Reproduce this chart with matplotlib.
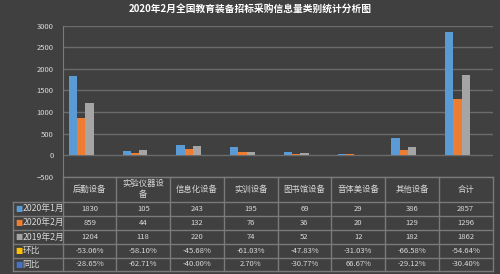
import matplotlib.pyplot as plt
import numpy as np

plt.rcParams['font.family'] = ['Noto Sans CJK SC', 'DejaVu Sans']

# data
categories = ['后勤设备', '实验仪器设\n备', '信息化设备', '实训设备', '图书馆设备', '音体美设备', '其他设备', '合计']
jan_2020 = [1830, 105, 243, 195, 69, 29, 386, 2857]
feb_2020 = [859, 44, 132, 76, 36, 20, 129, 1296]
feb_2019 = [1204, 118, 220, 74, 52, 12, 182, 1862]
mom_pct = [-53.06, -58.10, -45.68, -61.03, -47.83, -31.03, -66.58, -54.64]   # 环比
yoy_pct = [-28.65, -62.71, -40.00, 2.70, -30.77, 66.67, -29.12, -30.40]     # 同比

series_names = ['2020年1月', '2020年2月', '2019年2月', '环比', '同比']
colors = ['#5b9bd5', '#ed7d31', '#a5a5a5', '#ffc000', '#4472c4']

bg = '#404040'
grid_c = '#6b6b6b'
line_c = '#7a7a7a'
txt_c = '#d9d9d9'

W, H = 500, 274
fig = plt.figure(figsize=(W / 100, H / 100), dpi=100, facecolor=bg)

fig.text(0.5, 1 - 9 / H, '2020年2月全国教育装备招标采购信息量类别统计分析图',
         ha='center', va='center', color='white', fontsize=7, fontweight='bold')

# main chart
x0, x1 = 62.7, 492.5
y_top, y_bot = 25.7, 176.7
ax = fig.add_axes([x0 / W, 1 - y_bot / H, (x1 - x0) / W, (y_bot - y_top) / H])
ax.set_facecolor(bg)

n = len(categories)
x = np.arange(n)
bw = 1 / 6.5
values = [jan_2020, feb_2020, feb_2019,
          [v / 100 for v in mom_pct], [v / 100 for v in yoy_pct]]
for i, (vals, c) in enumerate(zip(values, colors)):
    ax.bar(x + (i - 2) * bw, vals, width=bw, color=c, linewidth=0, zorder=2)

ax.set_xlim(-0.5, n - 0.5)
ax.set_ylim(-500, 3000)
ax.set_yticks(range(-500, 3001, 500))
ax.yaxis.grid(True, color=grid_c, lw=1)
ax.set_axisbelow(True)
ax.set_xticks([])
ax.tick_params(axis='y', length=0, pad=6.5, labelsize=5.5, labelcolor=txt_c)
for s in ['top', 'right', 'bottom']:
    ax.spines[s].set_visible(False)
ax.spines['left'].set_color(line_c)

# data table
tx0, ty0, ty1 = 12.7, 177, 271
label_w = (x0 - tx0) / ((x1 - x0) / n)
tax = fig.add_axes([tx0 / W, 1 - ty1 / H, (x1 - tx0) / W, (ty1 - ty0) / H])
tax.set_xlim(-0.5 - label_w, n - 0.5)
tax.set_ylim(ty1 - ty0, 0)
tax.axis('off')

row_edges = [0, 24.7, 38.7, 53, 67, 80.7, 94]
left = -0.5 - label_w
right = n - 0.5

# horizontal lines
tax.plot([-0.5, right], [0, 0], color=line_c, lw=1, clip_on=False)
for yy in row_edges[1:]:
    tax.plot([left, right], [yy, yy], color=line_c, lw=1, clip_on=False)
# vertical lines
tax.plot([left, left], [row_edges[1], row_edges[-1]], color=line_c, lw=1, clip_on=False)
for k in range(n + 1):
    xv = k - 0.5
    tax.plot([xv, xv], [0, row_edges[-1]], color=line_c, lw=1, clip_on=False)

# header
for k, cat in enumerate(categories):
    tax.text(k, row_edges[1] / 2, cat, ha='center', va='center', color=txt_c,
             fontsize=6, linespacing=1.3)

row_text = [
    [str(v) for v in jan_2020],
    [str(v) for v in feb_2020],
    [str(v) for v in feb_2019],
    [f'{v:.2f}%' for v in mom_pct],
    [f'{v:.2f}%' for v in yoy_pct],
]
for r, (name, c, cells) in enumerate(zip(series_names, colors, row_text)):
    yc = (row_edges[r + 1] + row_edges[r + 2]) / 2
    tax.text(left + 0.04, yc, '■', ha='left', va='center', color=c, fontsize=5.5,
             family=['DejaVu Sans'])
    tax.text(left + 0.18, yc, name, ha='left', va='center', color=txt_c, fontsize=6.3)
    for k, s in enumerate(cells):
        tax.text(k, yc, s, ha='center', va='center', color=txt_c, fontsize=5.5)

fig.savefig('out.png', dpi=100, facecolor=bg)
